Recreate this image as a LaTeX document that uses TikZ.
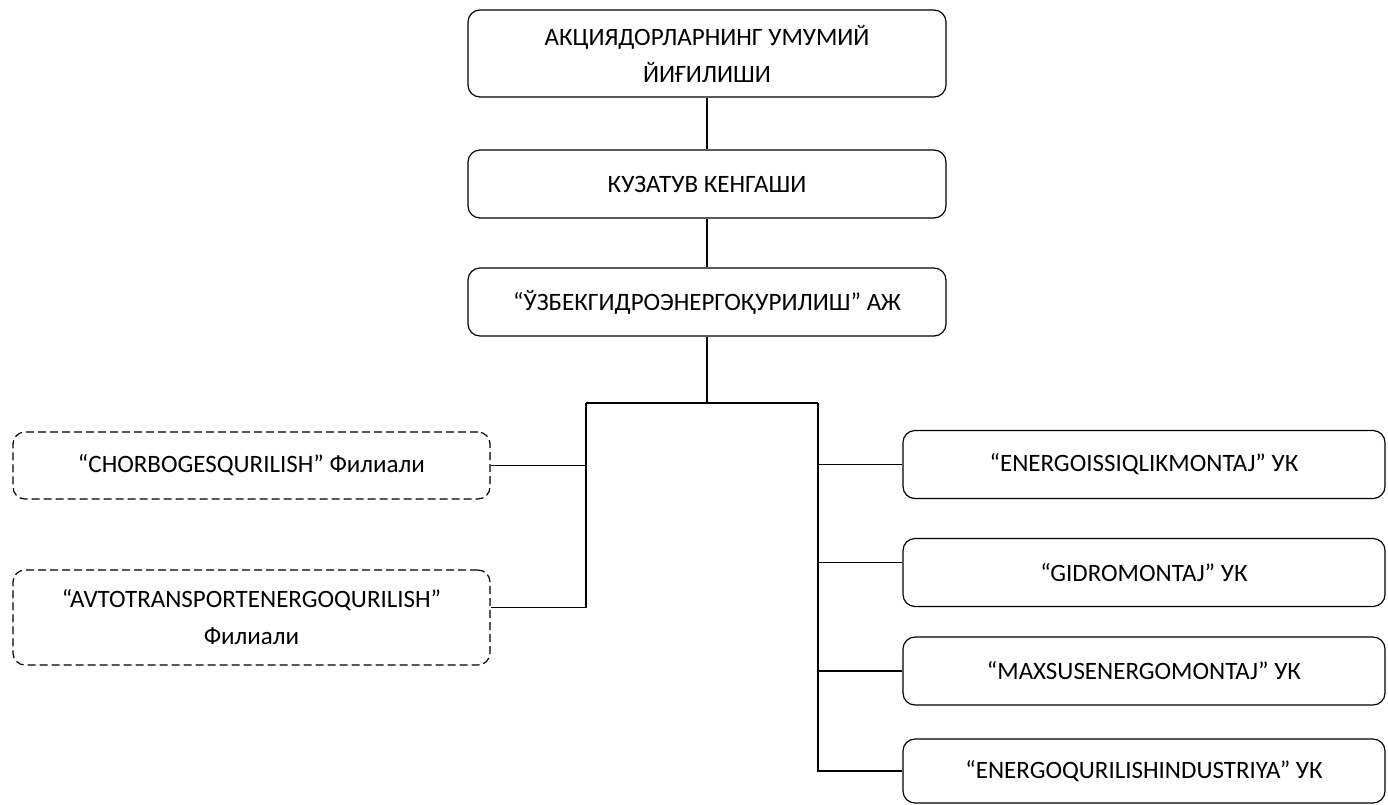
\documentclass[tikz,border=0pt]{standalone}
\usepackage{fontspec}
\setmainfont{Carlito}
\begin{document}
\begin{tikzpicture}[x=1pt,y=-1pt,line width=1.2pt,
    every node/.style={draw,rounded corners=12pt,inner sep=0pt,align=center,font=\fontsize{25}{37}\selectfont},
    unit/.style={minimum width=478pt,minimum height=68pt},
    branch/.style={minimum width=477pt,minimum height=67pt,dashed,dash pattern=on 8pt off 4pt},
    firm/.style={minimum width=482pt,minimum height=68pt}]
    \useasboundingbox (0,0) rectangle (1388,804);
    \node[unit,minimum height=87pt] (1) at (707,53.5) {АКЦИЯДОРЛАРНИНГ УМУМИЙ\\ЙИҒИЛИШИ};
    \node[unit] (2) at (707,184) {КУЗАТУВ КЕНГАШИ};
    \node[unit] (3) at (707,302) {“ЎЗБЕКГИДРОЭНЕРГОҚУРИЛИШ” АЖ};
    \node[branch] (4) at (251.5,465.5) {“CHORBOGESQURILISH” Филиали};
    \node[branch,minimum height=95pt] (5) at (251.5,617.5) {“AVTOTRANSPORTENERGOQURILISH”\\Филиали};
    \node[firm] (6) at (1144,464.5) {“ENERGOISSIQLIKMONTAJ” УК};
    \node[firm] (7) at (1144,572.5) {“GIDROMONTAJ” УК};
    \node[firm] (8) at (1144,671) {“MAXSUSENERGOMONTAJ” УК};
    \node[firm,minimum height=64pt] (9) at (1144,771) {“ENERGOQURILISHINDUSTRIYA” УК};
    \coordinate (top) at (707,403);
    \coordinate (lbus) at (586,403);
    \coordinate (rbus) at (818,403);
    \path[draw] (1) -- (2) -- (3) -- (top);
    \path[draw] (lbus) -- (rbus);
    \path[draw] (lbus) |- ([yshift=10pt]5.east);
    \path[draw] (lbus |- 4.east) -- (4.east);
    \path[draw] (rbus) |- (9.west);
    \path[draw] (rbus |- 6.west) -- (6.west);
    \path[draw] (rbus |- 7.west) ++(0,-10) -- ([yshift=10pt]7.west);
    \path[draw] (rbus |- 8.west) -- (8.west);
\end{tikzpicture}
\end{document}
